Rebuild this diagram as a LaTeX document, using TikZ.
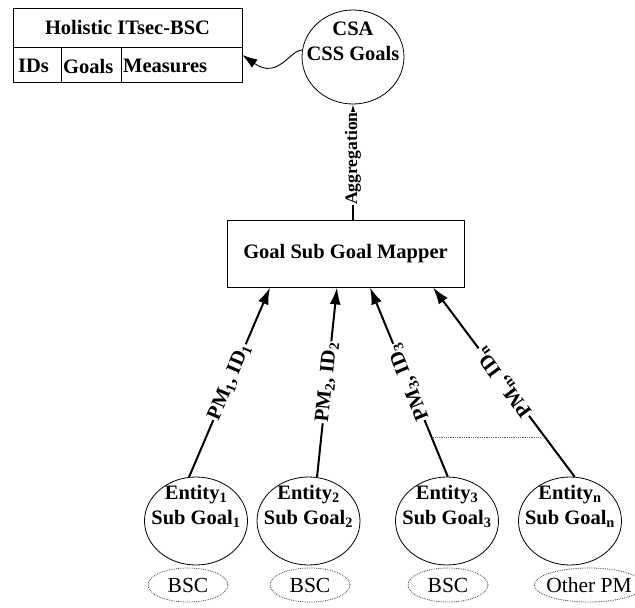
\documentclass[tikz,border=0pt]{standalone}
\usepackage{fontspec}
\setmainfont{Liberation Serif}
\usetikzlibrary{arrows.meta,shapes.geometric}

\begin{document}
\begin{tikzpicture}[
  x=1pt, y=-1pt,
  font=\fontsize{20.5}{25}\selectfont\bfseries,
  >=Latex,
  box/.style={
    draw,
    line width=0.8pt,
    inner sep=0pt
  },
  goal/.style={
    draw,
    ellipse,
    line width=0.8pt,
    minimum width=103pt,
    minimum height=88pt,
    align=center,
    inner xsep=-14pt,
    inner ysep=-10pt
  },
  pm/.style={
    draw=black!75,
    densely dotted,
    ellipse,
    line width=0.8pt,
    minimum width=80pt,
    minimum height=34pt,
    inner sep=-4pt,
    font=\fontsize{21.5}{25}\selectfont\mdseries
  },
  cell/.style={anchor=west, inner sep=2pt},
  flow/.style={-{Latex[length=17pt,width=11pt]}, line width=2pt},
  agg/.style={-{Latex[length=15pt,width=10pt]}, line width=1.5pt},
  back/.style={-{Latex[length=15pt,width=10pt]}, line width=0.9pt},
  tag/.style={sloped, allow upside down, fill=white, inner sep=1pt}
]
\useasboundingbox (0,0) rectangle (635,608);

% Holistic BSC table
\node[box, minimum width=229pt, minimum height=74pt] (itsec) at (127.5,45) {};
\draw[line width=0.8pt] (13,47) -- (242,47);
\draw[line width=0.8pt] (61,47) -- (61,82);
\draw[line width=0.8pt] (121,47) -- (121,82);
\node (title) at (127.5,27.5) {Holistic ITsec-BSC};
\node[cell] (ids) at (16,66) {IDs};
\node[cell] (goals) at (61,66) {Goals};
\node[cell] (measures) at (121,66) {Measures};

% CSA and mapper
\node[goal, minimum width=102pt, minimum height=94pt] (csa) at (353,57) {CSA\\CSS Goals\\\strut};
\node[box, minimum width=237pt, minimum height=67pt] (mapper) at (345.5,253.5) {Goal Sub Goal Mapper};

% Entities
\node[goal] (e1) at (196,521) {Entity\textsubscript{1}\\Sub Goal\textsubscript{1}\\\strut};
\node[goal] (e2) at (308.5,521) {Entity\textsubscript{2}\\Sub Goal\textsubscript{2}\\\strut};
\node[goal] (e3) at (447,521) {Entity\textsubscript{3}\\Sub Goal\textsubscript{3}\\\strut};
\node[goal] (en) at (570,521) {Entity\textsubscript{n}\\Sub Goal\textsubscript{n}\\\strut};

% Measurement sources
\node[pm] (b1) at (188,585) {BSC};
\node[pm] (b2) at (310,585) {BSC};
\node[pm] (b3) at (448,585) {BSC};
\node[pm, minimum width=92pt] (bn) at (589,585) {Other PM};

% Flow arrows
\draw[flow] (e1.99) -- node[tag] {PM\textsubscript{1}, ID\textsubscript{1}} ([xshift=-75.5pt]mapper.south);
\draw[flow] (e2.79) -- node[tag] {PM\textsubscript{2}, ID\textsubscript{2}} ([xshift=-8.5pt]mapper.south);
\draw[flow] (e3.89) -- coordinate[pos=0.207] (d3) node[tag] {PM\textsubscript{3}, ID\textsubscript{3}} ([xshift=24.5pt]mapper.south);
\draw[flow] (en.84) -- coordinate[pos=0.207] (dn) node[tag] {PM\textsubscript{n}, ID\textsubscript{n}} ([xshift=87.5pt]mapper.south);
\draw[densely dotted, black!60, line width=0.8pt, shorten >=5pt] (d3) -- (d3 -| dn);

% Aggregation
\draw[agg] ([xshift=7.5pt]mapper.north) -- node[tag, pos=0.53, inner sep=0pt, font=\fontsize{17.6}{20}\selectfont\bfseries] {Aggregation} (csa.south);
\draw[back] (csa.172) .. controls (290,50) and (278,80) .. ([yshift=-10pt]itsec.east);

\end{tikzpicture}
\end{document}
